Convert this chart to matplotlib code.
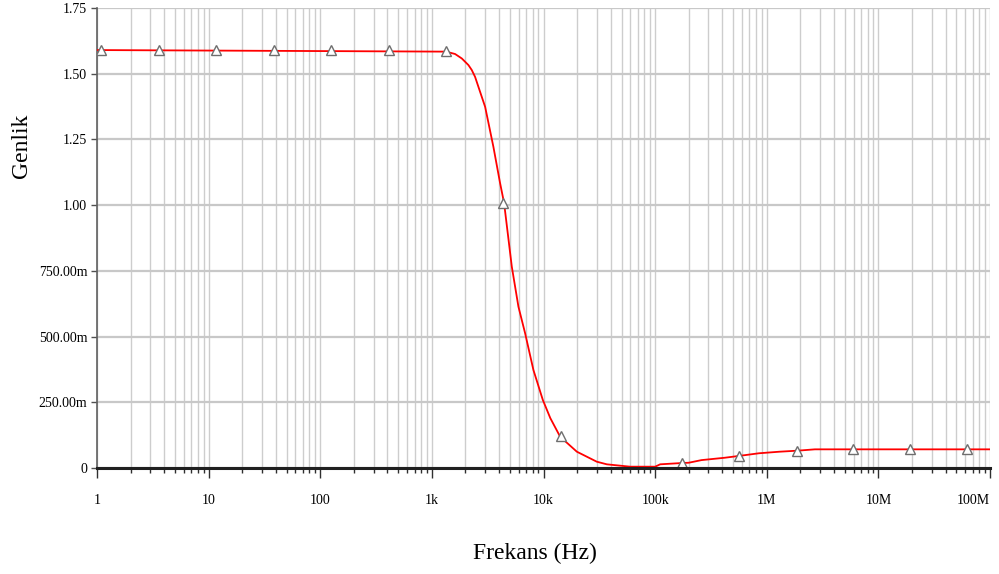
import matplotlib
matplotlib.use("Agg")
import matplotlib.pyplot as plt
from matplotlib.ticker import FixedLocator, LogLocator, NullFormatter

# Response curve
freq = [1, 1341, 1614, 1854, 2124, 2277, 2438, 2704, 3000, 3557, 4083, 4436,
        5200, 5960, 6840, 8120, 9860, 11500, 14100, 19900, 30000, 36900,
        59700, 100000, 111000, 174600, 200000, 260000, 420000, 566000,
        850000, 1300000, 1900000, 2700000, 100000000]
gain = [1.590, 1.584, 1.575, 1.558, 1.533, 1.514, 1.488, 1.431, 1.374, 1.222,
        1.084, 1.008, 0.766, 0.614, 0.513, 0.373, 0.259, 0.190, 0.119, 0.062,
        0.024, 0.014, 0.005, 0.005, 0.014, 0.019, 0.020, 0.030, 0.039, 0.046,
        0.056, 0.062, 0.066, 0.071, 0.071]

# Marker positions
mark_freq = [1.086, 3.59, 11.65, 38.5, 125, 413, 1341, 4347, 14400,
             174600, 566000, 1870000, 5940000, 19300000, 62500000]
mark_gain = [1.59, 1.59, 1.59, 1.59, 1.59, 1.59, 1.585, 1.01, 0.12,
             0.02, 0.046, 0.065, 0.071, 0.071, 0.071]

xticks = [1, 10, 100, 1e3, 1e4, 1e5, 1e6, 1e7, 1e8]
xlabels = ['1', '10', '100', '1k', '10k', '100k', '1M', '10M', '100M']
yticks = [0, 0.25, 0.5, 0.75, 1.0, 1.25, 1.5, 1.75]
ylabels = ['0', '250.00m', '500.00m', '750.00m', '1.00', '1.25', '1.50', '1.75']

fig = plt.figure(figsize=(9.99, 5.74), dpi=100)
ax = fig.add_axes([97 / 999, 1 - 468 / 574, 893 / 999, 460 / 574])

ax.plot(freq, gain, color='#ff0000', lw=1.3, zorder=3)
ax.plot(mark_freq, mark_gain, ls='none', marker='^', ms=6.5, mfc='white',
        mec='#6e6e6e', mew=1, zorder=4)

ax.set_xscale('log')
ax.set_xlim(1, 1e8)
ax.set_ylim(0, 1.75)

ax.xaxis.set_major_locator(FixedLocator(xticks))
ax.xaxis.set_minor_locator(LogLocator(base=10, subs=range(2, 10), numticks=20))
ax.xaxis.set_minor_formatter(NullFormatter())
ax.set_xticks(xticks)
ax.set_xticklabels(xlabels)
ax.set_yticks(yticks)
ax.set_yticklabels(ylabels)

for lab in ax.get_xticklabels() + ax.get_yticklabels():
    lab.set_family('Liberation Serif')
    lab.set_fontsize(10)
# last label would run off the right edge, keep it inside like the original
ax.get_xticklabels()[-1].set_horizontalalignment('right')

ax.tick_params(axis='x', which='major', direction='out', length=7, width=1,
               color='#303030', pad=12)
ax.tick_params(axis='x', which='minor', direction='out', length=3.5, width=1,
               color='#303030')
ax.tick_params(axis='y', direction='out', length=4, width=1,
               color='#505050', pad=3)

ax.grid(True, axis='y', color='#c8c8c8', lw=1.6, zorder=0)
ax.grid(True, axis='x', which='both', color='#cdcdcd', lw=1, zorder=0)

for s in ['top', 'right']:
    ax.spines[s].set_visible(False)
ax.spines['left'].set_color('#606060')
ax.spines['left'].set_linewidth(1.2)
ax.spines['bottom'].set_color('#202020')
ax.spines['bottom'].set_linewidth(2.2)
ax.spines['bottom'].set_zorder(5)

fig.text(22 / 999, 1 - 146 / 574, 'Genlik', rotation=90, ha='center',
         va='center', family='Liberation Serif', fontsize=17)
fig.text(535 / 999, 1 - 553 / 574, 'Frekans (Hz)', ha='center', va='center',
         family='Liberation Serif', fontsize=17)

fig.savefig('out.png', dpi=100, facecolor='white')
